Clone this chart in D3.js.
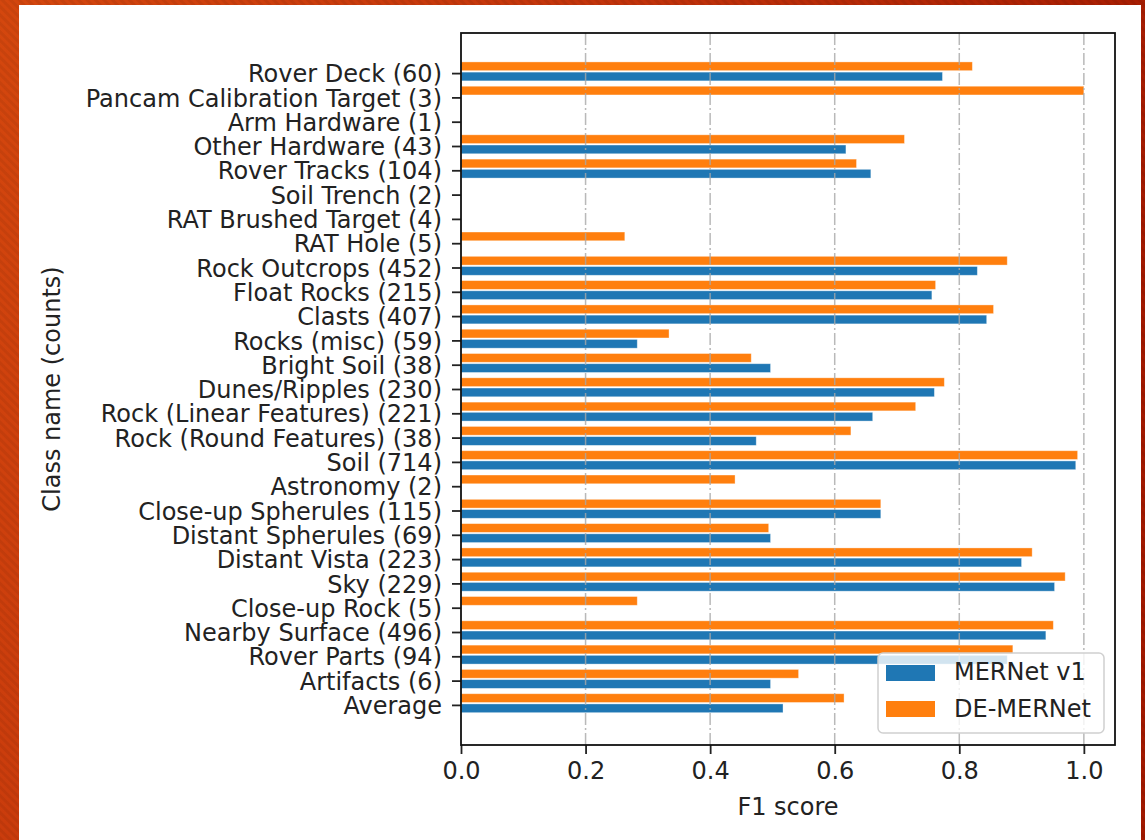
<!DOCTYPE html>
<html>
<head>
<meta charset="utf-8">
<script src="https://cdn.jsdelivr.net/npm/d3@7"></script>
<style>
  body { margin: 0; padding: 0; }
  svg { display: block; font-family: "DejaVu Sans", sans-serif; }
</style>
</head>
<body>
<svg id="chart" width="1145" height="840"></svg>
<script>
var classes = ['Rover Deck (60)', 'Pancam Calibration Target (3)', 'Arm Hardware (1)', 'Other Hardware (43)',
  'Rover Tracks (104)', 'Soil Trench (2)', 'RAT Brushed Target (4)', 'RAT Hole (5)', 'Rock Outcrops (452)',
  'Float Rocks (215)', 'Clasts (407)', 'Rocks (misc) (59)', 'Bright Soil (38)', 'Dunes/Ripples (230)',
  'Rock (Linear Features) (221)', 'Rock (Round Features) (38)', 'Soil (714)', 'Astronomy (2)',
  'Close-up Spherules (115)', 'Distant Spherules (69)', 'Distant Vista (223)', 'Sky (229)',
  'Close-up Rock (5)', 'Nearby Surface (496)', 'Rover Parts (94)', 'Artifacts (6)', 'Average'];
// F1 scores per class
var mernet_v1 = [0.773, 0, 0, 0.618, 0.658, 0, 0, 0, 0.829, 0.756, 0.844, 0.283, 0.497, 0.760,
  0.661, 0.474, 0.987, 0, 0.674, 0.497, 0.900, 0.953, 0, 0.939, 0.877, 0.497, 0.517];
var de_mernet = [0.821, 1.0, 0, 0.712, 0.635, 0, 0, 0.263, 0.877, 0.762, 0.855, 0.334, 0.466, 0.776,
  0.730, 0.626, 0.990, 0.440, 0.674, 0.494, 0.917, 0.970, 0.283, 0.951, 0.886, 0.542, 0.615];
var x_ticks = [0.0, 0.2, 0.4, 0.6, 0.8, 1.0];
var series_names = ['MERNet v1', 'DE-MERNet'];
var series_colors = ['#1f77b4', '#ff7f0e'];

var svg = d3.select('#chart');
var W = +svg.attr('width'), H = +svg.attr('height');
var FS = 24;

// background frame
var defs = svg.append('defs');
var grad = defs.append('linearGradient').attr('id', 'bg').attr('x1', '0').attr('y1', '0').attr('x2', '1').attr('y2', '0.3');
grad.append('stop').attr('offset', '0%').attr('stop-color', '#d4470e');
grad.append('stop').attr('offset', '50%').attr('stop-color', '#c2330b');
grad.append('stop').attr('offset', '100%').attr('stop-color', '#a31900');
var pat = defs.append('pattern').attr('id', 'stripes').attr('width', 6).attr('height', 6)
  .attr('patternUnits', 'userSpaceOnUse').attr('patternTransform', 'rotate(-45)');
pat.append('rect').attr('width', 3).attr('height', 6).attr('fill', '#000').attr('opacity', 0.06);
svg.append('rect').attr('width', W).attr('height', H).attr('fill', 'url(#bg)');
svg.append('rect').attr('width', W).attr('height', H).attr('fill', 'url(#stripes)');
svg.append('rect').attr('x', 19).attr('y', 5).attr('width', 1122).attr('height', H - 5).attr('fill', '#fff');

var L = 461, R = 1115, T = 33, B = 745;
var x = d3.scaleLinear().domain([0, 1.05]).range([L, R]);
var y = d3.scaleLinear().domain([-1.65, classes.length - 1 + 1.65]).range([T, B]);
var barH = 0.36;

var rows = classes.map((c, i) => ({name: c, i: i, vals: [mernet_v1[i], de_mernet[i]]}));
var offsets = [0.14, -0.28];

var bars = svg.append('g');
series_names.forEach((s, k) => {
  bars.selectAll('.b' + k).data(rows).enter().append('rect')
    .attr('class', 'b' + k)
    .attr('x', x(0))
    .attr('y', d => y(d.i + offsets[k] - barH / 2))
    .attr('width', d => x(d.vals[k]) - x(0))
    .attr('height', y(barH) - y(0))
    .attr('fill', series_colors[k])
    .attr('stroke', '#fff').attr('stroke-opacity', 0.45).attr('stroke-width', 0.8);
});

// grid on top of bars
svg.append('g').selectAll('line').data(x_ticks.slice(1)).enter().append('line')
  .attr('x1', d => x(d)).attr('x2', d => x(d)).attr('y1', T).attr('y2', B)
  .attr('stroke', '#a8a8a8').attr('stroke-width', 1.5).attr('stroke-opacity', 0.8)
  .attr('stroke-dasharray', '12,3,2,3');

// axes
var xAxis = svg.append('g').attr('transform', 'translate(0,' + B + ')')
  .call(d3.axisBottom(x).tickValues(x_ticks).tickFormat(d3.format('.1f')).tickSize(9).tickPadding(8));
var yAxis = svg.append('g').attr('transform', 'translate(' + L + ',0)')
  .call(d3.axisLeft(y).tickValues(d3.range(classes.length)).tickFormat(i => classes[i]).tickSize(9).tickPadding(10));
[xAxis, yAxis].forEach(a => {
  a.select('.domain').remove();
  a.selectAll('text').attr('font-size', FS).attr('fill', '#222').attr('font-family', '"DejaVu Sans", sans-serif');
  a.selectAll('line').attr('stroke', '#222').attr('stroke-width', 1.8);
});
yAxis.selectAll('text').attr('dy', '0.36em');

// frame
svg.append('rect').attr('x', L).attr('y', T).attr('width', R - L).attr('height', B - T)
  .attr('fill', 'none').attr('stroke', '#111').attr('stroke-width', 1.8);

// axis labels
svg.append('text').attr('x', (L + R) / 2).attr('y', 815).attr('text-anchor', 'middle')
  .attr('font-size', FS).attr('fill', '#222').text('F1 score');
svg.append('text').attr('transform', 'translate(60,' + ((T + B) / 2) + ') rotate(-90)')
  .attr('text-anchor', 'middle').attr('font-size', FS).attr('fill', '#222').text('Class name (counts)');

// legend
var lg = svg.append('g');
lg.append('rect').attr('x', 878).attr('y', 653).attr('width', 226).attr('height', 80).attr('rx', 5)
  .attr('fill', '#fff').attr('fill-opacity', 0.8).attr('stroke', '#d0d0d0').attr('stroke-width', 1.5);
series_names.forEach((s, k) => {
  lg.append('rect').attr('x', 886).attr('y', 665 + k * 36).attr('width', 49).attr('height', 16)
    .attr('fill', series_colors[k]);
  lg.append('text').attr('x', 954).attr('y', 680 + k * 36.5).attr('font-size', FS).attr('fill', '#222').text(s);
});
</script>
</body>
</html>
